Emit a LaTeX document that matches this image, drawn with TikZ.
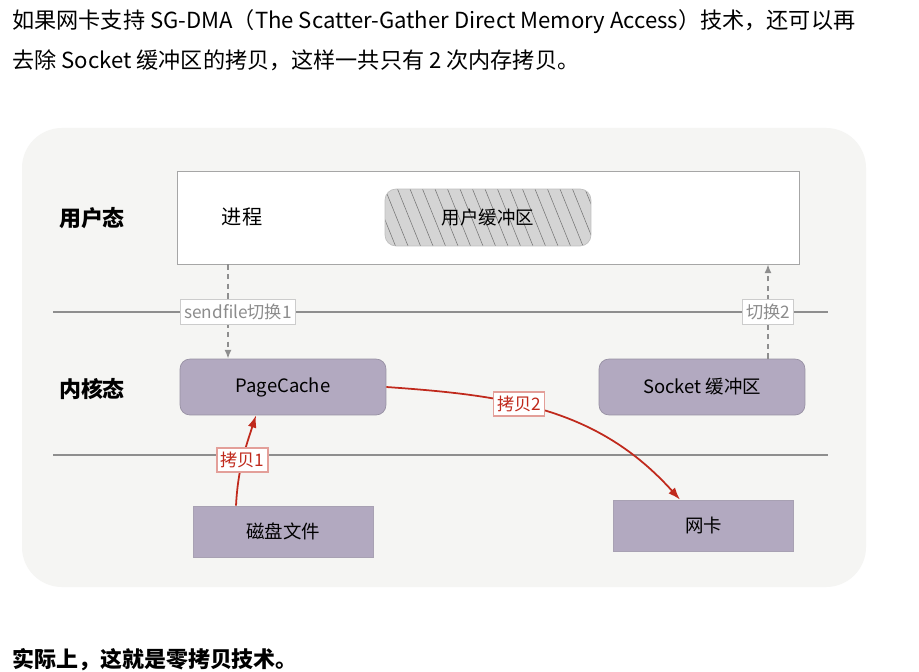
\documentclass[tikz,border=0pt]{standalone}
\usepackage{fontspec}
\setmainfont{Noto Sans CJK SC}
\usetikzlibrary{arrows.meta}

\definecolor{bgpanel}{HTML}{F5F5F3}
\definecolor{boxpurple}{HTML}{B2A9C0}
\definecolor{copyred}{HTML}{C0291C}
\definecolor{switchgray}{HTML}{8E8E8E}
\definecolor{userbuf}{HTML}{D4D4D4}

\begin{document}
\begin{tikzpicture}[x=0.02cm,y=-0.02cm,
    bodytext/.style={anchor=west,inner sep=0pt,font=\fontsize{12.6}{14}\selectfont},
    statelabel/.style={font=\bfseries\fontsize{12.5}{14}\selectfont},
    purplebox/.style={fill=boxpurple,draw=boxpurple!85!black,minimum width=4.12cm,
      minimum height=1.12cm,font=\fontsize{10.5}{12}\selectfont},
    devicebox/.style={fill=boxpurple,draw=boxpurple!80!gray,minimum width=3.6cm,
      minimum height=1.02cm,font=\fontsize{10.5}{12}\selectfont},
    hatchline/.style={draw=black!55,line width=0.3pt},
    sepline/.style={draw=switchgray,line width=0.9pt},
    switcharrow/.style={draw=switchgray,line width=0.9pt,dash pattern=on 3pt off 2.5pt,
      -{Latex[length=5pt,width=4pt]}},
    switchlabel/.style={fill=white,draw=black!20,text=black!45,inner sep=2pt,
      minimum height=0.5cm,font=\fontsize{9.8}{11}\selectfont},
    copyarrow/.style={draw=copyred,line width=1pt,-{Latex[length=7pt,width=5pt]}},
    copylabel/.style={fill=white,draw=copyred!45,text=copyred,inner sep=2pt,
      minimum height=0.48cm,font=\fontsize{9.8}{11}\selectfont}]

  % Cadre
  \useasboundingbox (0,0) rectangle (919,672);
  \fill[white] (0,0) rectangle (919,672);

  % Texte au-dessus et au-dessous
  \node[bodytext] (intro1) at (12,22)
    {如果网卡支持 SG-DMA（The Scatter-Gather Direct Memory Access）技术，还可以再};
  \node[bodytext] (intro2) at (12,60)
    {去除 Socket 缓冲区的拷贝，这样一共只有 2 次内存拷贝。};
  \node[bodytext,font=\bfseries\fontsize{12.5}{14}\selectfont] (outro) at (12,660)
    {实际上，这就是零拷贝技术。};

  % Fond du schéma
  \fill[bgpanel,rounded corners=0.8cm] (22,128) rectangle (866,587);

  % Espace utilisateur
  \node[fill=white,draw=black!35,minimum width=12.44cm,minimum height=1.86cm]
    (userspace) at (488,217.5) {};
  \node[font=\fontsize{11.5}{13}\selectfont] (process) at (242,217) {进程};
  \node[fill=userbuf,draw=userbuf!90!black,rounded corners=0.22cm,
    minimum width=4.12cm,minimum height=1.14cm,font=\fontsize{10.5}{12}\selectfont,
    path picture={
      \foreach \k in {-3,...,17}
        \draw[hatchline] ([xshift=\k*0.25cm]path picture bounding box.north west)
          -- ++(0.46cm,-1.14cm);
    }] (userbuffer) at (488,217.5) {用户缓冲区};
  \node[statelabel] (userstate) at (92,218) {用户态};

  % Espace noyau
  \node[purplebox,rounded corners=0.2cm] (pagecache) at (283,387) {PageCache};
  \node[purplebox,rounded corners=0.2cm] (socketbuf) at (702,387) {Socket 缓冲区};
  \node[statelabel] (kernelstate) at (92,389) {内核态};

  % Matériel
  \node[devicebox] (disk) at (283,531.5) {磁盘文件};
  \node[devicebox] (netcard) at (703.5,525.5) {网卡};

  % Séparations
  \draw[sepline] (53,312) -- (828,312);
  \draw[sepline] (53,455) -- (828,455);

  % Changements de contexte
  \coordinate (switchA) at (228,312);
  \coordinate (switchB) at (768,312);
  \draw[switcharrow] (userspace.south -| switchA) -- (pagecache.north -| switchA);
  \draw[switcharrow] (socketbuf.north -| switchB) -- (userspace.south -| switchB);
  \node[switchlabel] (switchlbl1) at (238,312) {sendfile切换1};
  \node[switchlabel] (switchlbl2) at (768,312) {切换2};

  % Copies
  \draw[copyarrow] ([xshift=-0.94cm]disk.north) to[out=87,in=-108]
    node[copylabel,pos=0.5] (copylbl1) {拷贝1}
    ([xshift=-0.54cm]pagecache.south);
  \draw[copyarrow] (pagecache.east) to[out=-4,in=132]
    node[copylabel,pos=0.4] (copylbl2) {拷贝2}
    ([xshift=-0.47cm]netcard.north);

\end{tikzpicture}
\end{document}
